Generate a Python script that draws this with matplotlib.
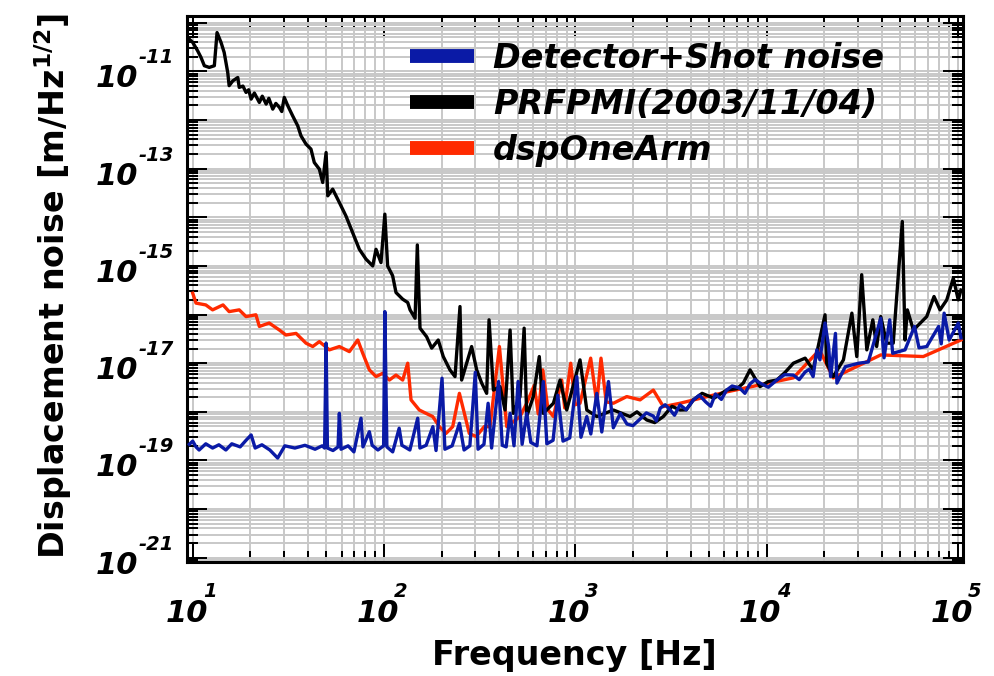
import matplotlib
matplotlib.use('Agg')
import matplotlib.pyplot as plt
import matplotlib.transforms as mtransforms
from matplotlib.ticker import LogLocator, NullFormatter

plt.rcParams['font.family'] = ['DejaVu Sans']
plt.rcParams['mathtext.fontset'] = 'dejavusans'

# ---------------- data ----------------
det_f = [9.6, 10, 10.4, 10.8, 11.7, 12.7, 13.7, 14.9, 16.0, 17.7, 19.0, 20.2, 21.2, 23.0,
         25.3, 27.8, 30.3, 34.2, 38.6, 43.6, 47.5, 48.9, 49.8, 50.6, 54.1, 57.5, 58.4, 59.6,
         64.9, 69.6, 75.8, 77.6, 83.8, 86.7, 92.9, 99.5, 101, 103.5, 111, 120, 124, 136.5,
         150, 154, 166, 180, 187, 201, 208, 227, 248, 262, 281, 300, 310, 333, 350, 365,
         397, 415, 435, 456, 478, 502, 527, 557, 585, 630, 680, 710, 765, 810, 862, 935,
         1018, 1070, 1148, 1205, 1295, 1375, 1490, 1580, 1720, 1862, 2000, 2180, 2350, 2555,
         2650, 2780, 2950, 3135, 3300, 3524, 3800, 4140, 4450, 4800, 5100, 5400, 5800, 6180,
         6600, 7220, 7700, 8190, 8700, 9240, 10200, 11300, 12400, 13800, 14800, 15900, 16700,
         17500, 18300, 19000, 20200, 21100, 21600, 22900, 23300, 25800, 30300, 34000, 39500,
         41100, 44000, 45600, 52900, 59300, 62600, 68700, 79300, 81800, 84700, 90000,
         100500, 103700]
det_v = [2.15e-19, 2.5e-19, 1.9e-19, 1.64e-19, 2.2e-19, 1.8e-19, 2.1e-19, 1.64e-19, 2.2e-19,
         1.9e-19, 2.6e-19, 3.35e-19, 1.8e-19, 2.1e-19, 1.64e-19, 1.12e-19, 2.0e-19, 1.8e-19,
         2.05e-19, 1.7e-19, 2.0e-19, 1.8e-19, 2.58e-17, 1.8e-19, 1.6e-19, 1.9e-19, 9.3e-19,
         1.7e-19, 2.0e-19, 1.5e-19, 7.4e-19, 1.9e-19, 3.9e-19, 2.05e-19, 1.64e-19, 2.0e-19,
         1.15e-16, 1.9e-19, 1.5e-19, 4.6e-19, 2.05e-19, 1.64e-19, 7.4e-19, 1.8e-19, 2.05e-19,
         4.96e-19, 1.6e-19, 4.9e-18, 1.7e-19, 2.0e-19, 5.8e-19, 1.64e-19, 2.0e-19, 6.5e-18,
         1.7e-19, 2.15e-19, 1.5e-18, 1.8e-19, 4.2e-18, 2.05e-19, 1.9e-19, 9.3e-19, 2.0e-19,
         4.2e-18, 2.15e-19, 9.3e-19, 2.35e-19, 2.0e-19, 4.2e-18, 2.2e-19, 2.6e-19, 2.2e-18,
         2.5e-19, 2.9e-19, 5.3e-18, 3.0e-19, 8.0e-19, 3.5e-19, 2.4e-18, 3.85e-19, 4.2e-18,
         4.7e-19, 9.3e-19, 5.6e-19, 5.2e-19, 7.1e-19, 9.5e-19, 8.2e-19,
         6.5e-19, 1.19e-18, 1.4e-18, 1.09e-18, 8.5e-19, 1.39e-18, 1.1e-18, 1.76e-18, 2.2e-18,
         1.6e-18, 1.3e-18, 2.33e-18, 1.8e-18, 2.8e-18,
         3.4e-18, 3.1e-18, 2.4e-18, 3.75e-18, 4.6e-18, 3.9e-18, 3.2e-18, 4.5e-18, 5.8e-18,
         5.7e-18, 4.6e-18, 6.6e-18, 7.5e-18,
         5.3e-18, 1.88e-17, 1.17e-17, 6.7e-17, 2.2e-17, 5.3e-18, 4.1e-17, 3.9e-18, 8.5e-18,
         1.0e-17, 1.06e-17, 8.4e-17, 1.29e-17, 7.8e-17, 1.6e-17, 1.88e-17, 5.7e-17, 2.07e-17,
         2.2e-17, 5.7e-17, 2.5e-17, 1.07e-16, 3.0e-17, 6.7e-17, 3.3e-17]

prf_f = [9.6, 10, 10.6, 11.05, 11.5, 12.2, 12.97, 13.4, 14.06, 14.6, 15.24, 15.5, 16.2, 17.2,
         17.5, 18.3, 19.0, 19.6, 20.2, 21.0, 22.3, 23.1, 24.2, 25.0, 26.2, 27.2, 28.4, 29.2,
         30.1, 31.4, 33.3, 35.4, 36.8, 39.1, 41.5,
         43.2, 45.9, 47.8, 49.8, 50.8, 53.9, 58.4, 63.2, 68.5, 74.3, 80.5, 87.3, 90.8, 96.4,
         101, 104.4, 110.9, 115.5, 125.2, 133, 136.8, 145.3, 149.3, 154.2, 167, 177.5, 192,
         204, 221, 235, 249.5, 254.5, 270.5, 287, 305, 324, 344, 354, 373, 404, 429, 456,
         474, 514, 540, 557, 603, 648, 680, 768, 832, 902, 1058, 1148, 1295, 1581, 1932,
         2100, 2362, 2600, 2884, 3200, 3524, 3800, 4140, 4600, 5300, 6180, 7000, 7550, 8190,
         9240, 10200, 11300, 12500, 13800, 15900, 17500, 20200,
         20600, 22300, 25200, 27900, 29600, 31400, 33400, 35900, 37600, 39500, 42400, 45900,
         51200, 52900, 54400, 58500, 68700, 75000, 80600, 87400, 94600, 100400, 103700]
prf_v = [4.6e-11, 3.95e-11, 2.67e-11, 1.94e-11, 1.31e-11, 1.21e-11, 1.31e-11, 6.3e-11, 3.95e-11,
         2.46e-11, 9.5e-12, 5.1e-12, 6.4e-12, 7.5e-12, 4.7e-12, 5.0e-12, 3.7e-12, 4.2e-12,
         2.7e-12, 3.6e-12, 2.3e-12, 3.1e-12, 2.13e-12, 2.8e-12, 1.68e-12, 2.2e-12, 1.82e-12,
         1.5e-12, 2.92e-12, 1.97e-12, 1.22e-12, 7.6e-13, 4.75e-13, 3.2e-13,
         2.53e-13, 1.34e-13, 9.8e-14, 5.2e-14, 2.15e-13, 2.77e-14, 3.8e-14, 2.02e-14, 1.07e-14,
         4.9e-15, 2.2e-15, 1.38e-15, 1.0e-15, 2.2e-15, 1.17e-15, 1.16e-14, 1.0e-15, 6.3e-16,
         2.84e-16, 2.07e-16, 1.77e-16, 1.25e-16, 8.4e-17, 2.7e-15, 5.25e-17, 3.5e-17, 2.04e-17,
         3.0e-17, 1.37e-17, 7.3e-18, 5.3e-18, 1.46e-16, 4.5e-18, 1.0e-17, 2.2e-17, 7.3e-18,
         3.9e-18, 2.4e-18, 7.8e-17, 2.8e-18, 3.3e-18, 1.09e-18, 4.8e-17, 9.3e-19, 2.06e-18,
         5.25e-17, 8.0e-19, 2.06e-18, 1.37e-17, 9.3e-19, 1.5e-18, 4.5e-18, 1.09e-18, 1.17e-17,
         1.09e-18, 8.0e-19, 1.09e-18, 8.0e-19,
         1.0e-18, 6.8e-19, 6.0e-19, 8.0e-19, 1.3e-18, 1.09e-18, 1.1e-18, 1.76e-18, 2.4e-18,
         1.9e-18, 2.8e-18, 3.0e-18, 3.9e-18, 7.3e-18,
         3.3e-18, 4.2e-18, 4.5e-18, 6.5e-18, 1.0e-17, 1.27e-17, 7.3e-18, 9.9e-17, 1.0e-17,
         5.3e-18, 1.17e-17, 1.07e-16, 1.37e-17, 6.6e-16, 1.88e-17, 7.8e-17, 2.2e-17, 9.1e-17,
         2.58e-17, 2.58e-17, 8.2e-15, 3.0e-17, 1.25e-16, 4.8e-17, 9.1e-17, 2.35e-16, 1.25e-16,
         2.0e-16, 5.6e-16, 2.0e-16, 3.2e-16]

arm_f = [10, 10.4, 11.7, 12.7, 14.4, 15.5, 17.5, 19.0, 21.4, 22.3, 25.1, 28.4, 30.7, 34.7,
         39.1, 42.4, 45.9, 51.8, 58.4, 65.9, 72.9, 77.4, 83.8, 90.8, 98.4, 106.6, 115.5,
         125.2, 133, 138.4, 152.9, 165.8, 179.7, 194.6, 210.9, 228.6, 247.7, 263, 279, 303,
         334, 358, 401, 438, 514, 557, 610, 640, 676, 720, 768, 849, 880, 946, 1000, 1058,
         1203, 1295, 1362, 1450, 1581, 1857, 2180, 2557, 2884, 3524, 6180, 13800, 18900,
         22300, 39500, 65900, 103700]
arm_v = [2.75e-16, 1.72e-16, 1.58e-16, 1.25e-16, 1.58e-16, 1.15e-16, 1.25e-16, 9.1e-17, 9.9e-17,
         5.7e-17, 6.7e-17, 4.8e-17, 3.8e-17, 4.1e-17, 2.58e-17, 2.2e-17, 2.78e-17, 1.88e-17,
         2.2e-17, 1.73e-17, 3.0e-17, 1.6e-17, 7.3e-18, 5.3e-18, 6.2e-18, 4.5e-18, 5.7e-18,
         4.5e-18, 1.0e-17, 1.76e-18, 1.09e-18, 9.3e-19, 8.0e-19, 4.96e-19, 3.6e-19, 4.96e-19,
         2.4e-18, 9.3e-19, 3.6e-19, 3.1e-19, 4.96e-19, 4.96e-19, 2.2e-17, 4.96e-19, 8.0e-19,
         1.5e-18, 3.5e-18, 9.0e-19, 7.3e-18, 1.1e-18, 8.0e-19, 4.5e-18, 1.2e-18, 1.0e-17,
         1.4e-18, 1.5e-18, 1.27e-17, 1.5e-18, 1.27e-17, 1.6e-18, 1.5e-18, 2.06e-18, 1.76e-18,
         2.8e-18, 1.28e-18, 1.5e-18, 2.57e-18, 5.0e-18, 1.88e-17, 5.0e-18, 1.48e-17, 1.37e-17,
         3.0e-17]

series_labels = ['Detector+Shot noise', 'PRFPMI(2003/11/04)', 'dspOneArm']
x_label_exps = [1, 2, 3, 4, 5]
y_label_exps = [-21, -19, -17, -15, -13, -11]

BLUE = '#0a1aa6'
RED = '#ff2a00'
GRID = '#c8c8c8'

# ---------------- figure ----------------
fig = plt.figure(figsize=(9.94, 6.76), dpi=100)
L, R, T, B = 186.7, 963.0, 16.0, 561.5
ax = fig.add_axes([L / 994, 1 - B / 676, (R - L) / 994, (B - T) / 676])
ax.set_xscale('log')
ax.set_yscale('log')
ax.set_xlim(9.30, 1.063e5)
ax.set_ylim(10 ** -21.078, 10 ** -9.86)

for axis, n in ((ax.xaxis, 20), (ax.yaxis, 30)):
    axis.set_major_locator(LogLocator(base=10, numticks=n))
    axis.set_minor_locator(LogLocator(base=10, subs=range(2, 10), numticks=n))
    axis.set_minor_formatter(NullFormatter())

ax.tick_params(which='both', direction='in', top=True, right=True,
               labelbottom=False, labelleft=False, width=1.45, color='black')
ax.tick_params(which='major', length=14.5)
ax.tick_params(which='minor', length=8)
ax.grid(True, which='both', color=GRID, lw=1.4)
ax.set_axisbelow(True)
for s in ax.spines.values():
    s.set_linewidth(2.2)

LW = 2.4
l_arm, = ax.plot(arm_f, arm_v, color=RED, lw=LW, zorder=3, label=series_labels[2])
l_prf, = ax.plot(prf_f, prf_v, color='black', lw=LW, zorder=4, label=series_labels[1])
l_det, = ax.plot(det_f, det_v, color=BLUE, lw=LW, zorder=5, label=series_labels[0])

leg = ax.legend(handles=[l_det, l_prf, l_arm], loc='upper left',
                bbox_to_anchor=((410 - L) / (R - L), (B - 41.5) / (B - T)),
                frameon=False,
                prop=dict(family='DejaVu Sans', weight='bold', style='italic', size=24),
                handlelength=1.92, handletextpad=0.57, labelspacing=0.4,
                borderpad=0, borderaxespad=0)
for h in leg.get_lines():
    h.set_linewidth(10)
    h.set_solid_capstyle('butt')


def off(dx, dy):
    return mtransforms.ScaledTranslation(dx / 100.0, dy / 100.0, fig.dpi_scale_trans)


tick_font = dict(fontweight='bold', fontstyle='italic', clip_on=False)
for e in x_label_exps:
    xv = 10.0 ** e
    ax.text(xv, 0, '10', transform=ax.get_xaxis_transform() + off(15, -60.5),
            ha='right', va='baseline', fontsize=22, **tick_font)
    ax.text(xv, 0, str(e), transform=ax.get_xaxis_transform() + off(10, -35.5),
            ha='left', va='baseline', fontsize=14, **tick_font)
for e in y_label_exps:
    yv = 10.0 ** e
    ax.text(0, yv, '10', transform=ax.get_yaxis_transform() + off(-48.7, -16),
            ha='right', va='baseline', fontsize=22, **tick_font)
    ax.text(0, yv, str(e), transform=ax.get_yaxis_transform() + off(-48, 8),
            ha='left', va='baseline', fontsize=14, **tick_font)

fig.text((L + R) / 2 / 994, 1 - 665 / 676, 'Frequency [Hz]', ha='center', va='baseline',
         fontsize=24, fontweight='bold')
fig.text(74 / 994, 1 - 286 / 676, r'Displacement noise [m/Hz$^{\mathbf{1/2}}$]',
         rotation=90, ha='right', va='center', fontsize=24, fontweight='bold')

fig.savefig('out.png', dpi=100)
